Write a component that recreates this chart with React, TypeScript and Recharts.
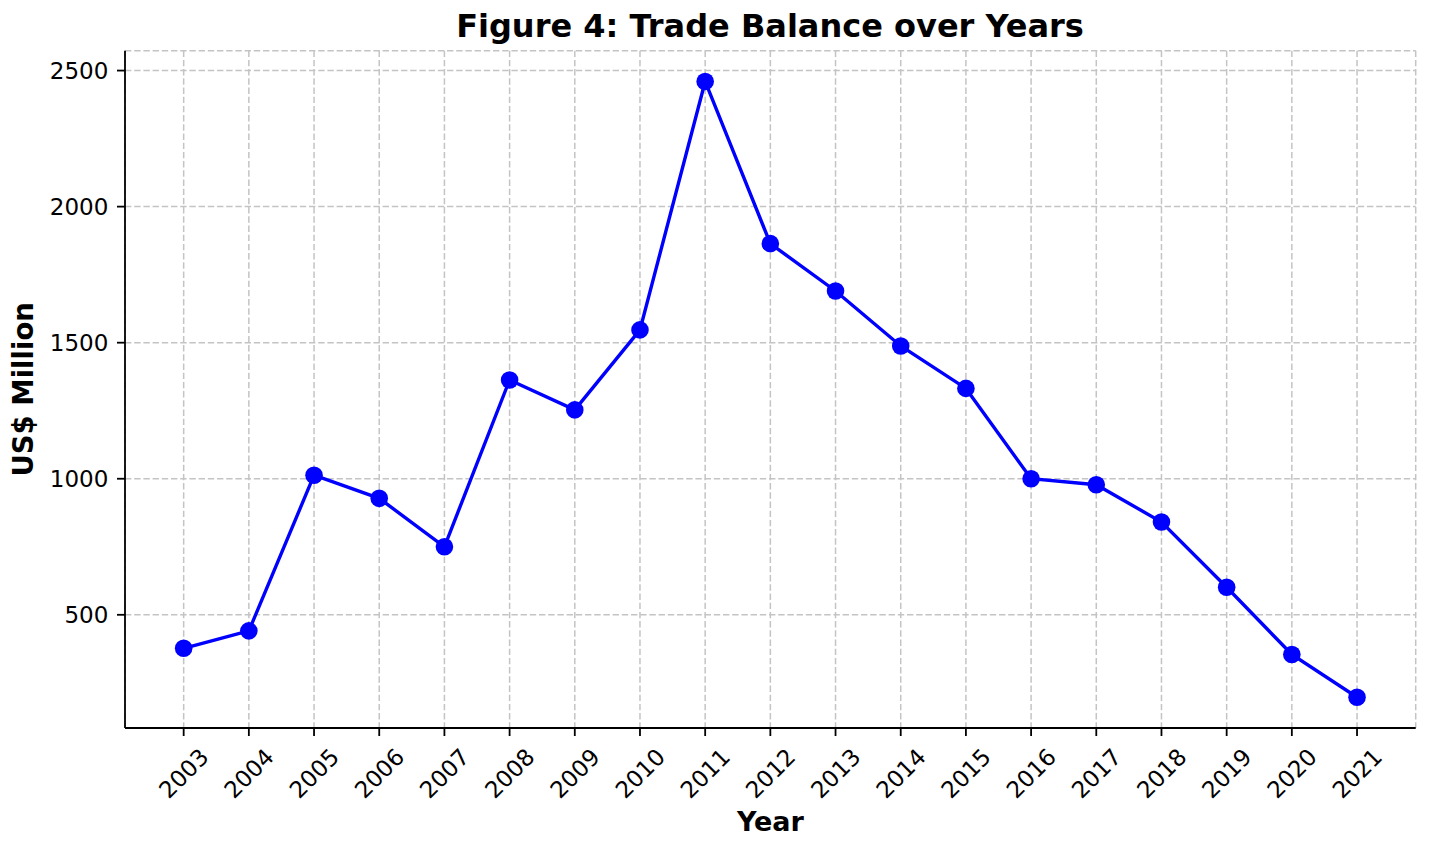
import React from "react"
import { LineChart, Line, XAxis, YAxis, CartesianGrid } from "recharts"

const years = [
  2003, 2004, 2005, 2006, 2007, 2008, 2009, 2010, 2011, 2012,
  2013, 2014, 2015, 2016, 2017, 2018, 2019, 2020, 2021,
]
const tradeBalance = [
  377, 441, 1013, 928, 750, 1363, 1253, 1547, 2460, 1864,
  1690, 1488, 1332, 1000, 978, 841, 601, 354, 197,
]
const yTicks = [500, 1000, 1500, 2000, 2500]

const data = years.map((year, i) => ({ year, value: tradeBalance[i] }))

const FONT = "DejaVu Sans"
const xDomain: [number, number] = [2002.1, 2021.9]
const yDomain: [number, number] = [84, 2573]

const axisLine = { stroke: "#000", strokeWidth: 1.8 }

function YearTick(props: any) {
  const { x, y, payload } = props
  return (
    <text
      transform={`translate(${x},${y + 35.3}) rotate(-45)`}
      textAnchor="middle"
      dy="0.36em"
      fontFamily={FONT}
      fontSize={23}
      fill="#000"
    >
      {payload.value}
    </text>
  )
}

function ValueTick(props: any) {
  const { x, y, payload } = props
  return (
    <text
      x={x}
      y={y}
      textAnchor="end"
      dy="0.36em"
      fontFamily={FONT}
      fontSize={23}
      fill="#000"
    >
      {payload.value}
    </text>
  )
}

export default function App() {
  return (
    <div style={{ position: "absolute", left: 0, top: 0, width: 1430, height: 852, background: "#fff" }}>
      <LineChart
        width={1430}
        height={852}
        data={data}
        margin={{ top: 50.7, right: 14.3, left: 0, bottom: 0 }}
      >
        <CartesianGrid stroke="#c4c4c4" strokeWidth={1.5} strokeDasharray="6.4 2.8" />
        <XAxis
          dataKey="year"
          type="number"
          domain={xDomain}
          ticks={years}
          interval={0}
          allowDataOverflow
          height={124}
          tickSize={8}
          tickMargin={2}
          axisLine={axisLine}
          tickLine={axisLine}
          tick={<YearTick />}
          label={{
            value: "Year",
            position: "insideBottom",
            offset: 21.3,
            fontFamily: FONT,
            fontSize: 27,
            fontWeight: "bold",
            fill: "#000",
          }}
        />
        <XAxis
          xAxisId="top"
          orientation="top"
          type="number"
          domain={xDomain}
          allowDataOverflow
          height={0}
          tick={false}
          tickLine={false}
          axisLine={axisLine}
        />
        <YAxis
          type="number"
          domain={yDomain}
          ticks={yTicks}
          interval={0}
          allowDataOverflow
          width={125}
          tickSize={8}
          tickMargin={8.7}
          axisLine={axisLine}
          tickLine={axisLine}
          tick={<ValueTick />}
          label={{
            value: "US$ Million",
            angle: -90,
            position: "insideLeft",
            offset: 23.7,
            fontFamily: FONT,
            fontSize: 27.5,
            fontWeight: "bold",
            fill: "#000",
            style: { textAnchor: "middle" },
          }}
        />
        <YAxis
          yAxisId="right"
          orientation="right"
          type="number"
          domain={yDomain}
          allowDataOverflow
          width={0}
          tick={false}
          tickLine={false}
          axisLine={axisLine}
        />
        <Line
          type="linear"
          dataKey="value"
          stroke="#0000ff"
          strokeWidth={3.4}
          dot={{ r: 8.8, fill: "#0000ff", stroke: "none" }}
          activeDot={false}
          isAnimationActive={false}
        />
      </LineChart>
      <svg
        width={1430}
        height={852}
        style={{ position: "absolute", left: 0, top: 0, pointerEvents: "none" }}
      >
        <text
          x={770}
          y={36.7}
          textAnchor="middle"
          fontFamily={FONT}
          fontSize={32}
          fontWeight="bold"
          fill="#000"
        >
          Figure 4: Trade Balance over Years
        </text>
      </svg>
    </div>
  )
}
